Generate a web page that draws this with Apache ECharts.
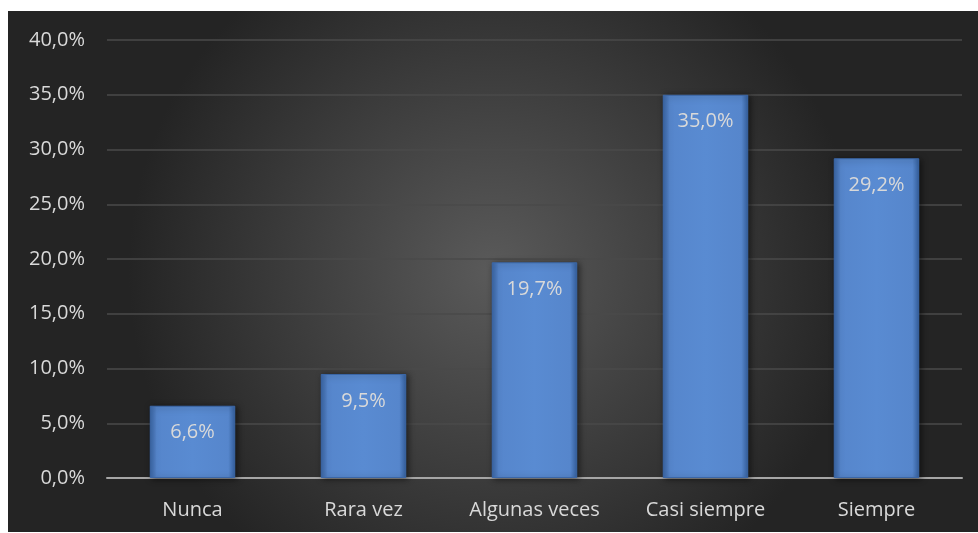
<!DOCTYPE html>
<html>
<head>
<meta charset="utf-8">
<script src="https://cdn.jsdelivr.net/npm/echarts@6/dist/echarts.min.js"></script>
<style>
  html, body { margin: 0; padding: 0; background: #fff; }
  #chart { width: 978px; height: 533px; }
</style>
</head>
<body>
<div id="chart"></div>
<script>
var categories = ['Nunca', 'Rara vez', 'Algunas veces', 'Casi siempre', 'Siempre'];
var percentValues = [6.6, 9.5, 19.7, 35.0, 29.2];
var yTicks = [0, 5, 10, 15, 20, 25, 30, 35, 40];

function fmt(v) {
    return v.toFixed(1).replace('.', ',') + '%';
}

var chart = echarts.init(document.getElementById('chart'));

var barColor = new echarts.graphic.LinearGradient(0, 0, 1, 0, [
    { offset: 0, color: '#3a66a6' },
    { offset: 0.08, color: '#5686cc' },
    { offset: 0.5, color: '#598bd2' },
    { offset: 0.92, color: '#5686cc' },
    { offset: 1, color: '#34609e' }
]);

var option = {
    backgroundColor: '#ffffff',
    textStyle: { fontFamily: 'Open Sans' },
    graphic: [{
        type: 'rect',
        z: -10,
        silent: true,
        shape: { x: 8, y: 11, width: 970, height: 521 },
        style: {
            fill: new echarts.graphic.RadialGradient(0.5, 0.5, 0.7, [
                { offset: 0, color: '#5a5a5a' },
                { offset: 1, color: '#242424' }
            ])
        }
    }],
    grid: { left: 107, right: 16, top: 40, bottom: 55 },
    xAxis: {
        type: 'category',
        data: categories,
        axisLine: { lineStyle: { color: '#a6a6a6', width: 2 } },
        axisTick: { show: false },
        axisLabel: { color: '#d9d9d9', fontSize: 20, margin: 22 }
    },
    yAxis: {
        type: 'value',
        min: yTicks[0],
        max: yTicks[yTicks.length - 1],
        interval: 5,
        axisLine: { show: false },
        axisTick: { show: false },
        splitLine: { lineStyle: { color: '#4a4a4a', width: 1.5 } },
        axisLabel: {
            color: '#d9d9d9',
            fontSize: 20,
            margin: 22,
            formatter: function (v) { return fmt(v); }
        }
    },
    series: [{
        type: 'bar',
        data: percentValues,
        barWidth: '50%',
        itemStyle: {
            color: barColor,
            borderColor: '#3b67a8',
            borderWidth: 1,
            shadowColor: 'rgba(0,0,0,0.5)',
            shadowBlur: 6,
            shadowOffsetX: 2,
            shadowOffsetY: 1
        },
        label: {
            show: true,
            position: 'insideTop',
            distance: 17,
            color: '#d9d9d9',
            fontSize: 20,
            formatter: function (p) { return fmt(p.value); }
        }
    }]
};

chart.setOption(option);
</script>
</body>
</html>
